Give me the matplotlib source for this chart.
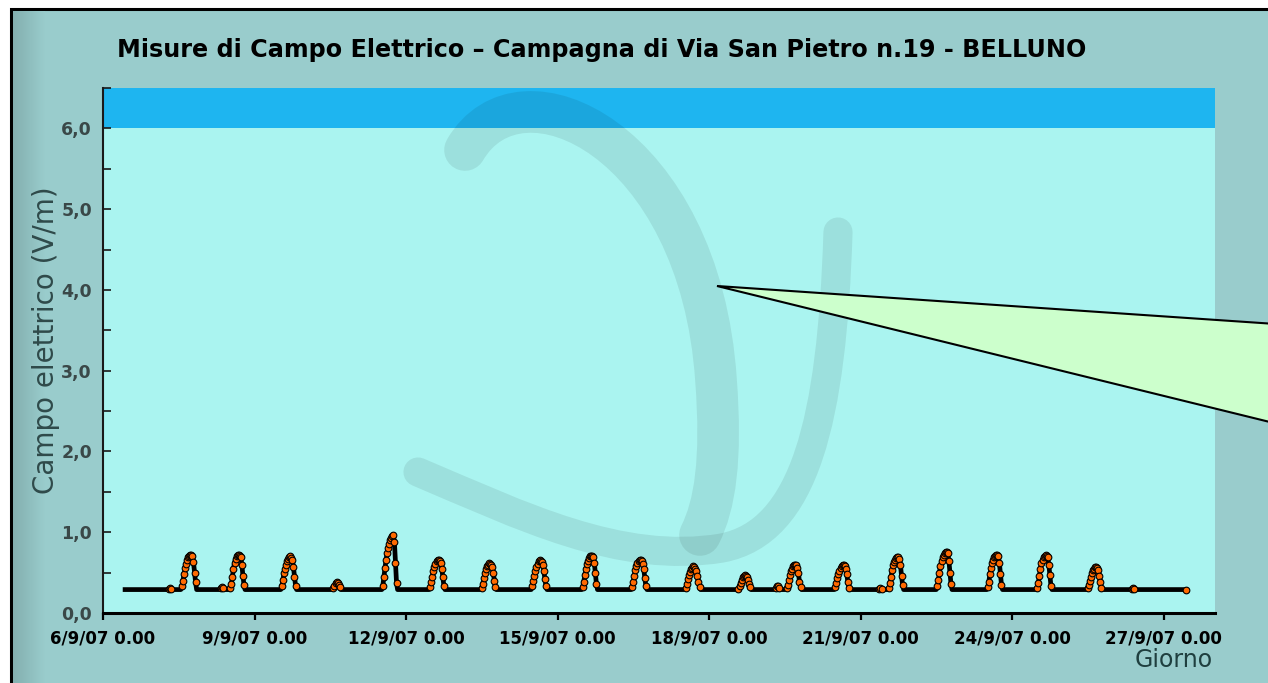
import numpy as np
import matplotlib
matplotlib.use("Agg")
import matplotlib.pyplot as plt
from matplotlib.patches import Polygon, Rectangle, PathPatch
from matplotlib.path import Path

W, H = 1268, 683

# ---------------- data ----------------
TITLE = "Misure di Campo Elettrico \u2013 Campagna di Via San Pietro n.19 - BELLUNO"
Y_LABEL = "Campo elettrico (V/m)"
X_LABEL = "Giorno"
X_TICK_HOURS = [0, 72, 144, 216, 288, 360, 432, 504]
X_TICK_LABELS = ["6/9/07 0.00", "9/9/07 0.00", "12/9/07 0.00", "15/9/07 0.00",
                 "18/9/07 0.00", "21/9/07 0.00", "24/9/07 0.00", "27/9/07 0.00"]
Y_MAJOR = [0, 1, 2, 3, 4, 5, 6]
Y_TICK_LABELS = ["0,0", "1,0", "2,0", "3,0", "4,0", "5,0", "6,0"]
LIMIT_BAND = (6.0, 6.5)

SERIES_START_H = 10.5     # first sample (hours after 6/9/07 0.00)
SERIES_END_H = 514.5      # last sample
STEP_H = 0.5              # sampling step
BASELINE = 0.29           # flat night/background level (V/m)

HUMP_START_H = [31.5, 37.5, 56.0, 60.5, 85.0, 109.5, 133.0, 155.5, 180.0, 204.0,
                228.0, 251.5, 277.0, 302.0, 320.0, 325.0, 348.0, 369.0, 373.5,
                396.5, 420.5, 444.0, 468.0, 489.0]
HUMP_VALUES = [
    [0.30, 0.31, 0.30],
    [0.33, 0.40, 0.48, 0.56, 0.61, 0.66, 0.69, 0.71, 0.72, 0.72, 0.71, 0.63, 0.50, 0.38],
    [0.31, 0.32, 0.31],
    [0.31, 0.36, 0.45, 0.55, 0.62, 0.67, 0.70, 0.72, 0.72, 0.71, 0.69, 0.60, 0.46, 0.35],
    [0.33, 0.41, 0.49, 0.55, 0.60, 0.64, 0.67, 0.69, 0.70, 0.68, 0.66, 0.57, 0.45, 0.34],
    [0.31, 0.34, 0.37, 0.38, 0.37, 0.35, 0.32],
    [0.34, 0.45, 0.56, 0.66, 0.74, 0.81, 0.86, 0.90, 0.93, 0.95, 0.96, 0.88, 0.62, 0.37],
    [0.32, 0.38, 0.45, 0.52, 0.57, 0.61, 0.64, 0.66, 0.66, 0.65, 0.62, 0.55, 0.44, 0.34],
    [0.31, 0.36, 0.43, 0.49, 0.54, 0.58, 0.60, 0.62, 0.61, 0.60, 0.57, 0.50, 0.40, 0.32],
    [0.33, 0.40, 0.46, 0.52, 0.57, 0.61, 0.64, 0.66, 0.65, 0.63, 0.60, 0.52, 0.42, 0.33],
    [0.32, 0.39, 0.47, 0.55, 0.61, 0.65, 0.68, 0.70, 0.71, 0.71, 0.69, 0.62, 0.49, 0.36],
    [0.32, 0.38, 0.46, 0.53, 0.58, 0.62, 0.65, 0.66, 0.66, 0.64, 0.61, 0.54, 0.43, 0.33],
    [0.31, 0.36, 0.42, 0.47, 0.51, 0.54, 0.56, 0.58, 0.57, 0.55, 0.52, 0.46, 0.38, 0.32],
    [0.30, 0.33, 0.37, 0.41, 0.44, 0.46, 0.47, 0.46, 0.44, 0.41, 0.36, 0.32],
    [0.31, 0.33, 0.33, 0.31],
    [0.31, 0.35, 0.41, 0.47, 0.52, 0.55, 0.58, 0.60, 0.60, 0.59, 0.56, 0.49, 0.39, 0.32],
    [0.32, 0.37, 0.43, 0.48, 0.52, 0.56, 0.58, 0.60, 0.59, 0.58, 0.55, 0.48, 0.38, 0.31],
    [0.30, 0.31, 0.30],
    [0.31, 0.37, 0.45, 0.53, 0.59, 0.63, 0.66, 0.68, 0.69, 0.69, 0.67, 0.59, 0.46, 0.35],
    [0.33, 0.41, 0.50, 0.58, 0.64, 0.69, 0.72, 0.74, 0.76, 0.76, 0.74, 0.65, 0.50, 0.36],
    [0.32, 0.39, 0.48, 0.56, 0.62, 0.66, 0.69, 0.71, 0.72, 0.72, 0.70, 0.62, 0.48, 0.35],
    [0.31, 0.37, 0.46, 0.55, 0.62, 0.66, 0.69, 0.71, 0.72, 0.71, 0.69, 0.60, 0.47, 0.34],
    [0.31, 0.35, 0.40, 0.45, 0.50, 0.53, 0.55, 0.57, 0.57, 0.56, 0.53, 0.46, 0.38, 0.31],
    [0.30, 0.31, 0.30],
]

# ---------------- series assembly ----------------
t = np.arange(SERIES_START_H, SERIES_END_H + STEP_H / 2, STEP_H)
v = np.full(t.shape, BASELINE)
mk_t, mk_v = [], []
for s, vals in zip(HUMP_START_H, HUMP_VALUES):
    i0 = int(round((s - SERIES_START_H) / STEP_H))
    v[i0:i0 + len(vals)] = vals
    mk_t.extend(t[i0:i0 + len(vals)])
    mk_v.extend(vals)
mk_t.append(t[-1])
mk_v.append(v[-1])

# ---------------- figure ----------------
BG = "#99cccc"
PLOT_BG = "#aaf4f0"
BAND = "#1eb5f0"

fig = plt.figure(figsize=(W / 100, H / 100), dpi=100, facecolor="white")


def fp(x, y):
    return (x / W, 1 - y / H)


# framed background
fig.patches.append(Rectangle(fp(11, 700), (1300 - 11) / W, (700 - 9) / H,
                             transform=fig.transFigure, facecolor=BG,
                             edgecolor="black", linewidth=2.2, zorder=0))
# darker strip along the left edge
grad = np.linspace(0.86, 1.0, 64)[None, :]
gax = fig.add_axes([13 / W, 0, 32 / W, 1 - 11 / H], zorder=0.1)
gax.imshow(np.dstack([0.6 * grad, 0.8 * grad, 0.8 * grad]), aspect="auto",
           extent=[0, 1, 0, 1])
gax.axis("off")

ax_left, ax_right = 103, 1215
ax_top, ax_bottom = 88, 613
ax = fig.add_axes([ax_left / W, 1 - ax_bottom / H, (ax_right - ax_left) / W,
                   (ax_bottom - ax_top) / H], zorder=1)
ax.set_facecolor(PLOT_BG)
ax.set_xlim(0, (ax_right - ax_left) / 50.5 * 24)
ax.set_ylim(0, 6.5)

ax.axhspan(*LIMIT_BAND, facecolor=BAND, edgecolor="none", zorder=1)

# watermark (faint logo), smooth Bezier strokes in figure pixels
C4 = Path.CURVE4
arc_pts = [(465, 150), (520, 55), (700, 140), (716, 380),
           (722, 460), (715, 505), (700, 535)]
arc_codes = [Path.MOVETO, C4, C4, C4, C4, C4, C4]
sw_pts = [(418, 472), (520, 515), (620, 565), (722, 548),
          (805, 532), (832, 420), (838, 232)]
sw_codes = [Path.MOVETO, C4, C4, C4, C4, C4, C4]
for pts, codes, lw in [(arc_pts, arc_codes, 30), (sw_pts, sw_codes, 21)]:
    path = Path([fp(x, y) for x, y in pts], codes)
    ax.add_patch(PathPatch(path, fill=False, edgecolor="black", alpha=0.08,
                           linewidth=lw, capstyle="round", joinstyle="round",
                           transform=fig.transFigure, zorder=1.5))

# data
ax.plot(t, v, color="black", linewidth=3.4, zorder=3, solid_joinstyle="round")
ax.plot(mk_t, mk_v, linestyle="none", marker="o", markersize=4.8,
        markerfacecolor="#ff6a00", markeredgecolor="black",
        markeredgewidth=0.8, zorder=4)

# axes styling
for side in ("top", "right"):
    ax.spines[side].set_visible(False)
ax.spines["left"].set_color("#1a1a1a")
ax.spines["left"].set_linewidth(1.5)
ax.spines["bottom"].set_color("black")
ax.spines["bottom"].set_linewidth(2.2)

ax.set_yticks(Y_MAJOR)
ax.set_yticklabels(Y_TICK_LABELS)
ax.set_yticks(np.arange(0.5, 6.6, 1.0), minor=True)
ax.tick_params(axis="y", which="both", direction="in", length=6, width=1.2,
               color="#1a1a1a", pad=8)
ax.tick_params(axis="y", which="major", labelsize=12.5, labelcolor="#3a4848")
for lab in ax.get_yticklabels():
    lab.set_fontweight("bold")

ax.set_xticks(X_TICK_HOURS)
ax.set_xticklabels(X_TICK_LABELS)
ax.tick_params(axis="x", direction="out", length=5, width=1.6, color="black",
               pad=7, labelsize=12)
for lab in ax.get_xticklabels():
    lab.set_fontweight("bold")

# texts
fig.text(602 / W, 1 - 50 / H, TITLE, ha="center", va="center", fontsize=17.2,
         fontweight="bold", color="black")
fig.text(46 / W, 1 - 340 / H, Y_LABEL, ha="center", va="center", rotation=90,
         fontsize=20, color="#2f4a4a")
fig.text(1174 / W, 1 - 660 / H, X_LABEL, ha="center", va="center", fontsize=17,
         color="#1f3f3f")

# callout wedge
tip = (717, 286)
callout = Polygon([fp(*tip), fp(1300, 286 + 0.068 * 583), fp(1300, 286 + 0.246 * 583)],
                  closed=True, transform=fig.transFigure, facecolor="#ccffcc",
                  edgecolor="black", linewidth=1.5, zorder=10, clip_on=False)
fig.patches.append(callout)

fig.savefig("out.png", dpi=100, facecolor=fig.get_facecolor())
